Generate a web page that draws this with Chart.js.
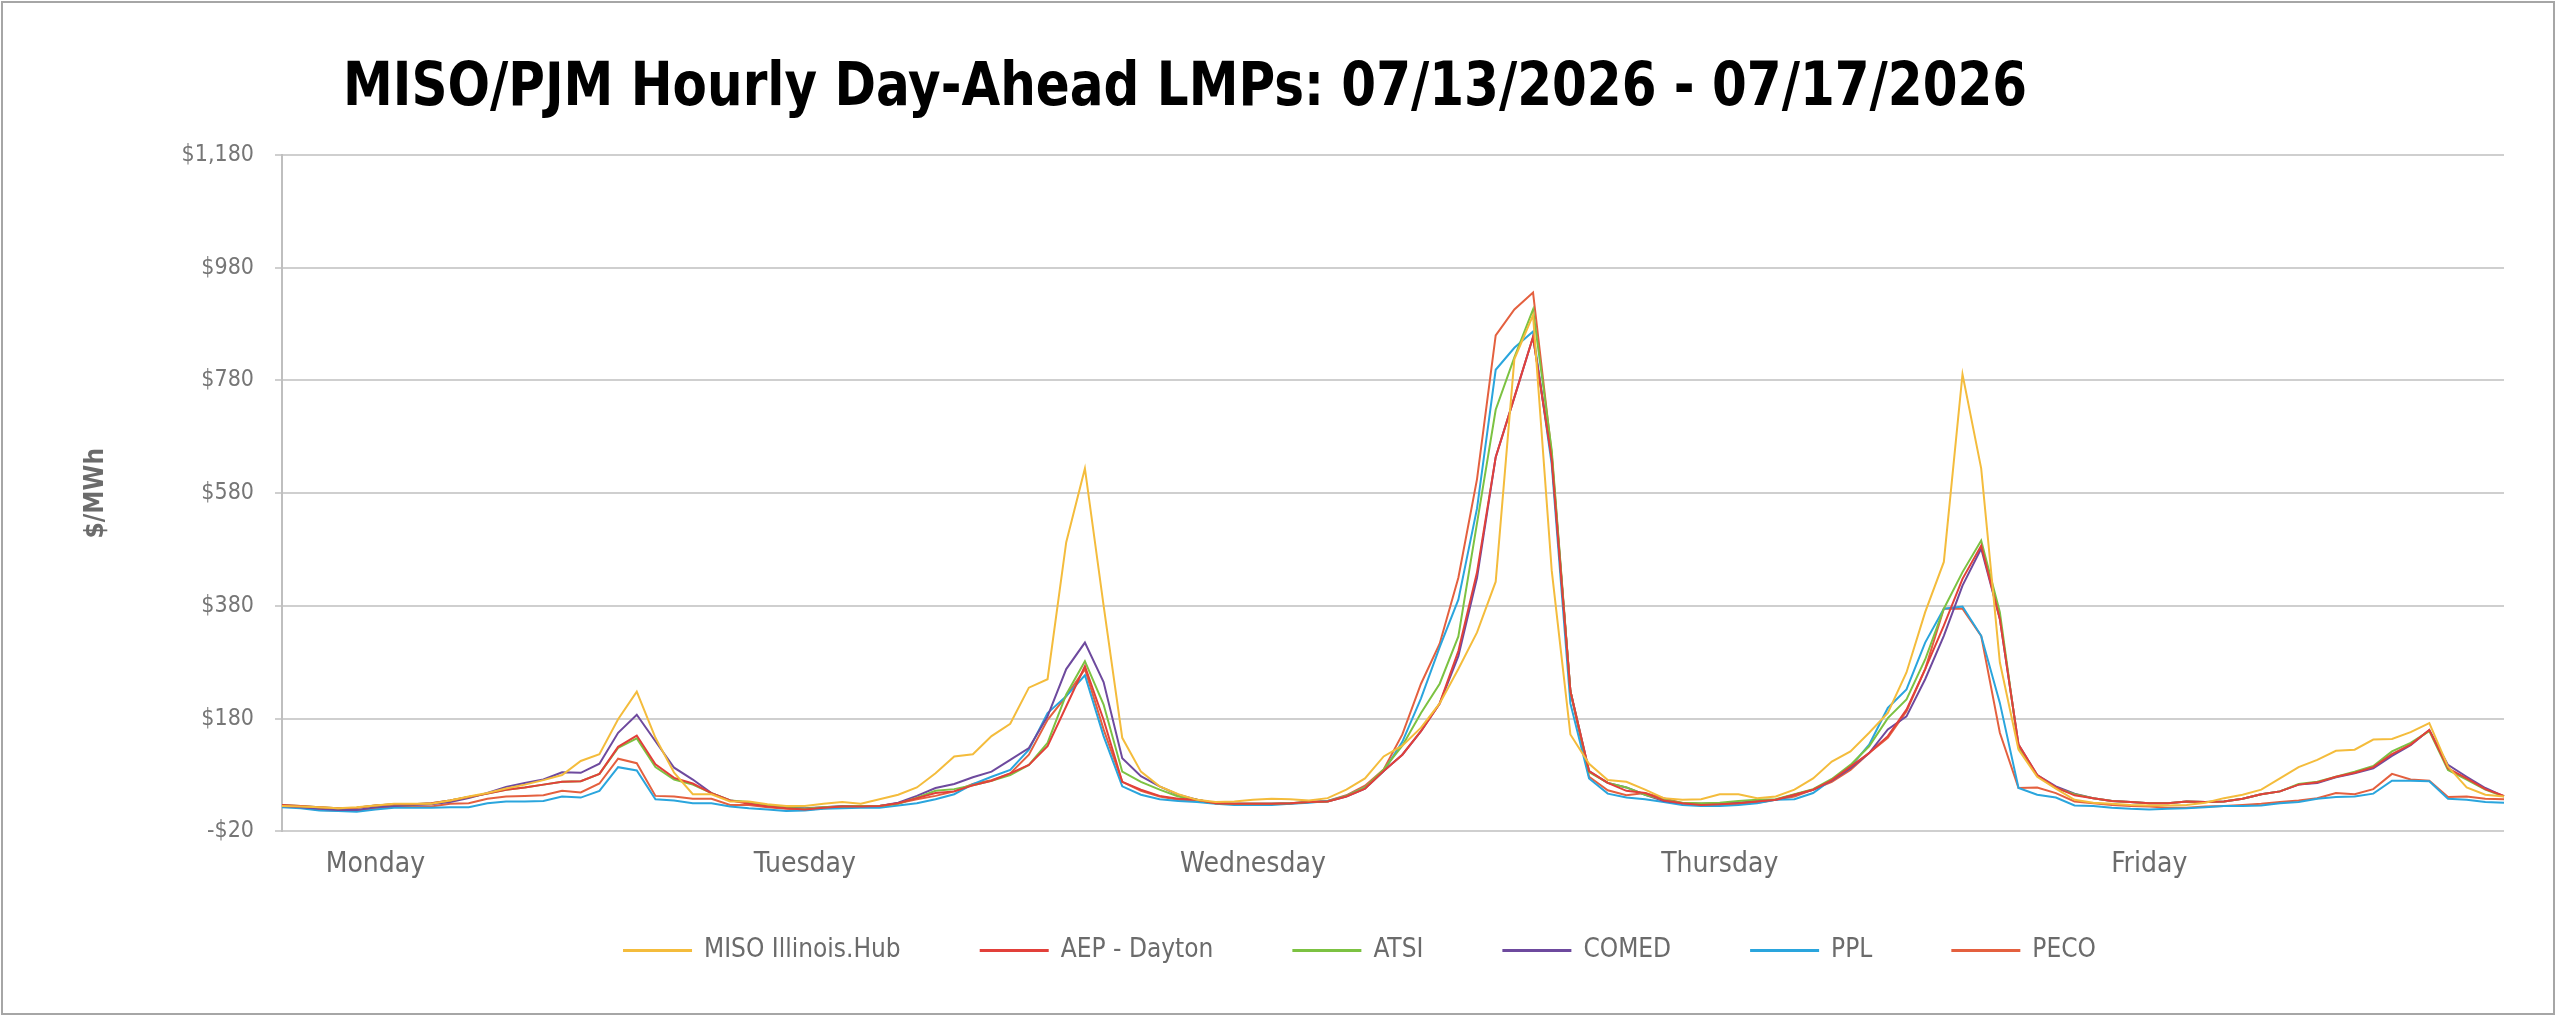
<!DOCTYPE html>
<html>
<head>
<meta charset="utf-8">
<script src="https://cdn.jsdelivr.net/npm/chart.js@4.4.1/dist/chart.umd.min.js"></script>
<style>
  html, body { margin: 0; padding: 0; background: #fff; }
  #wrap { position: relative; width: 2560px; height: 1019px; }
  #chart { position: absolute; left: 0; top: 0; }
  #frame {
    position: absolute; left: 1px; top: 1px; width: 2554px; height: 1014px;
    box-sizing: border-box; border: 2px solid #a6a6a6; pointer-events: none;
  }
  #title {
    position: absolute; left: 343px; top: 54px; margin: 0;
    font-family: "DejaVu Sans Condensed", sans-serif;
    font-weight: bold; font-size: 60px; line-height: 60px; color: #000; white-space: nowrap;
    transform: scaleX(0.927); transform-origin: left top;
  }
</style>
</head>
<body>
<div id="wrap">
  <canvas id="chart" width="2560" height="1019"></canvas>
  <h1 id="title">MISO/PJM Hourly Day-Ahead LMPs: 07/13/2026 - 07/17/2026</h1>
  <div id="frame"></div>
</div>
<script>
const fontFamily = '"DejaVu Sans Condensed", sans-serif';

const dayNames = ["Monday", "Tuesday", "Wednesday", "Thursday", "Friday"];
const dayLabelHours = [5, 28, 52, 77, 100];

const seriesNames = ["MISO Illinois.Hub", "AEP - Dayton", "ATSI", "COMED", "PPL", "PECO"];
const seriesColors = ["#f4bc3c", "#e2403a", "#7cc242", "#6e4a9e", "#2aa5dd", "#e4603f"];

const misoHub = [
  25, 24, 23, 21, 23, 26, 29, 29, 29, 35, 42, 48, 56, 63, 71, 80, 105, 117, 179, 228, 146, 84, 46, 46, 33,
  33, 28, 25, 25, 29, 32, 29, 37, 45, 58, 83, 113, 117, 149, 171, 235, 250, 493, 624, 381, 146, 86, 60, 46,
  36, 32, 33, 36, 38, 37, 35, 39, 54, 74, 113, 132, 164, 207, 268, 333, 423, 818, 896, 443, 152, 100, 71, 68,
  54, 39, 36, 37, 46, 46, 39, 42, 54, 74, 104, 122, 155, 190, 262, 369, 458, 791, 624, 280, 125, 77, 56, 36,
  31, 29, 27, 26, 26, 27, 31, 39, 45, 54, 74, 94, 107, 123, 125, 143, 144, 156, 172, 95, 58, 45, 42
];
const aepDayton = [
  27, 25, 23, 21, 22, 26, 28, 28, 30, 35, 41, 47, 54, 58, 63, 68, 69, 82, 130, 150, 99, 75, 65, 48, 35,
  29, 24, 21, 19, 22, 24, 24, 25, 30, 39, 48, 51, 62, 70, 83, 98, 131, 202, 273, 178, 68, 54, 43, 38,
  36, 30, 29, 29, 29, 30, 32, 33, 42, 56, 87, 116, 158, 207, 300, 440, 644, 750, 857, 640, 229, 87, 66, 52,
  48, 35, 30, 27, 28, 30, 33, 36, 45, 54, 71, 95, 119, 149, 196, 268, 345, 428, 487, 357, 134, 80, 58, 44,
  39, 34, 32, 30, 30, 33, 32, 33, 38, 46, 51, 63, 67, 77, 84, 94, 117, 134, 160, 92, 74, 55, 43
];
const atsi = [
  27, 25, 23, 21, 22, 26, 28, 28, 30, 35, 41, 47, 54, 58, 63, 68, 69, 82, 128, 145, 94, 72, 63, 48, 35,
  32, 26, 22, 20, 23, 24, 25, 25, 29, 40, 52, 55, 62, 70, 80, 98, 137, 223, 282, 205, 86, 68, 54, 42,
  36, 30, 29, 29, 29, 30, 32, 33, 43, 58, 90, 132, 190, 242, 326, 527, 728, 821, 906, 656, 229, 85, 66, 58,
  45, 36, 31, 30, 31, 34, 36, 37, 46, 55, 73, 98, 131, 181, 214, 285, 375, 440, 496, 369, 128, 79, 57, 46,
  39, 34, 32, 30, 30, 33, 32, 33, 38, 46, 51, 64, 68, 77, 86, 96, 122, 137, 158, 89, 72, 54, 42
];
const comed = [
  25, 23, 20, 18, 18, 23, 25, 27, 28, 32, 39, 48, 59, 66, 72, 85, 84, 100, 155, 187, 140, 93, 72, 48, 35,
  31, 26, 22, 21, 23, 25, 25, 25, 31, 43, 57, 64, 76, 86, 107, 128, 184, 268, 315, 245, 110, 78, 60, 45,
  36, 30, 29, 29, 29, 30, 32, 33, 42, 56, 87, 116, 158, 207, 291, 430, 644, 750, 857, 644, 229, 87, 66, 58,
  45, 34, 30, 29, 30, 31, 34, 36, 45, 54, 70, 92, 119, 161, 184, 250, 327, 416, 482, 357, 134, 80, 60, 47,
  39, 34, 32, 30, 30, 33, 32, 33, 38, 46, 51, 63, 66, 76, 83, 92, 114, 133, 160, 98, 77, 57, 42
];
const ppl = [
  23, 21, 17, 16, 15, 19, 22, 22, 22, 23, 23, 30, 33, 33, 34, 42, 40, 52, 94, 88, 37, 35, 30, 30, 24,
  21, 19, 16, 17, 20, 21, 22, 22, 26, 30, 37, 46, 64, 77, 89, 125, 190, 220, 257, 149, 60, 45, 37, 34,
  32, 29, 27, 27, 27, 29, 31, 34, 43, 58, 87, 139, 216, 307, 391, 553, 799, 838, 867, 631, 207, 74, 47, 40,
  37, 32, 27, 25, 25, 27, 30, 36, 37, 48, 72, 95, 134, 199, 232, 315, 375, 379, 327, 208, 57, 45, 40, 26,
  25, 22, 20, 19, 20, 21, 23, 25, 25, 26, 30, 32, 38, 41, 42, 47, 70, 70, 69, 38, 36, 32, 31
];
const peco = [
  24, 23, 18, 17, 17, 21, 24, 24, 24, 29, 30, 38, 42, 43, 44, 52, 49, 65, 109, 101, 43, 42, 38, 38, 27,
  27, 23, 20, 18, 21, 23, 24, 25, 30, 37, 43, 51, 64, 71, 83, 116, 178, 220, 268, 161, 68, 52, 42, 36,
  34, 30, 29, 29, 29, 29, 32, 34, 44, 61, 90, 152, 242, 313, 430, 605, 860, 906, 936, 650, 229, 77, 53, 44,
  48, 39, 30, 27, 27, 29, 31, 36, 42, 54, 68, 89, 119, 146, 193, 268, 375, 375, 327, 155, 57, 58, 48, 33,
  30, 27, 25, 24, 22, 22, 24, 25, 27, 29, 32, 35, 39, 48, 46, 55, 82, 72, 70, 41, 42, 38, 37
];

const seriesValues = [misoHub, aepDayton, atsi, comed, ppl, peco];

// one label per hour, day names only where the original axis shows them
const hourLabels = misoHub.map(function (v, i) {
  const k = dayLabelHours.indexOf(i);
  return k >= 0 ? dayNames[k] : "";
});

const datasets = seriesNames.map(function (name, i) {
  return {
    label: name,
    data: seriesValues[i],
    borderColor: seriesColors[i],
    backgroundColor: seriesColors[i],
    borderWidth: 2,
    pointRadius: 0,
    tension: 0,
  };
});

// legend padding is wide (for item spacing); pull the box up under the day labels
const legendPlacement = {
  id: "legendPlacement",
  afterLayout(chart) {
    const legend = chart.legend;
    const h = legend.height;
    legend.top = chart.chartArea.bottom + 26;
    legend.bottom = legend.top + h;
    legend.left -= 33;
    legend.right -= 33;
  },
};

const ctx = document.getElementById("chart").getContext("2d");
new Chart(ctx, {
  type: "line",
  data: { labels: hourLabels, datasets: datasets },
  plugins: [legendPlacement],
  options: {
    responsive: false,
    animation: false,
    devicePixelRatio: 1,
    layout: { padding: { left: 20, right: 56, top: 155, bottom: 4 } },
    plugins: {
      tooltip: { enabled: false },
      legend: {
        position: "bottom",
        fullSize: false,
        labels: {
          boxWidth: 67,
          boxHeight: 1,
          padding: 80,
          color: "#6b6b6b",
          font: { family: fontFamily, size: 26 },
        },
      },
    },
    scales: {
      x: {
        grid: { display: false, drawTicks: false },
        border: { display: false },
        ticks: {
          autoSkip: false,
          maxRotation: 0,
          padding: 17,
          color: "#6b6b6b",
          font: { family: fontFamily, size: 28 },
        },
      },
      y: {
        min: -20,
        max: 1180,
        afterFit: function (scale) {
          scale.width = 262;
        },
        ticks: {
          stepSize: 200,
          padding: 21,
          color: "#767676",
          font: { family: fontFamily, size: 23 },
          callback: function (value) {
            const sign = value < 0 ? "-" : "";
            return sign + "$" + Math.abs(value).toLocaleString("en-US");
          },
        },
        grid: { color: "#cfcfcf", lineWidth: 2, tickLength: 7 },
        border: { display: true, color: "#bfbfbf", width: 2 },
        title: {
          display: true,
          text: "$/MWh",
          color: "#6b6b6b",
          padding: { top: 61, bottom: 0 },
          font: { family: fontFamily, size: 26, weight: "bold" },
        },
      },
    },
  },
});
</script>
</body>
</html>
